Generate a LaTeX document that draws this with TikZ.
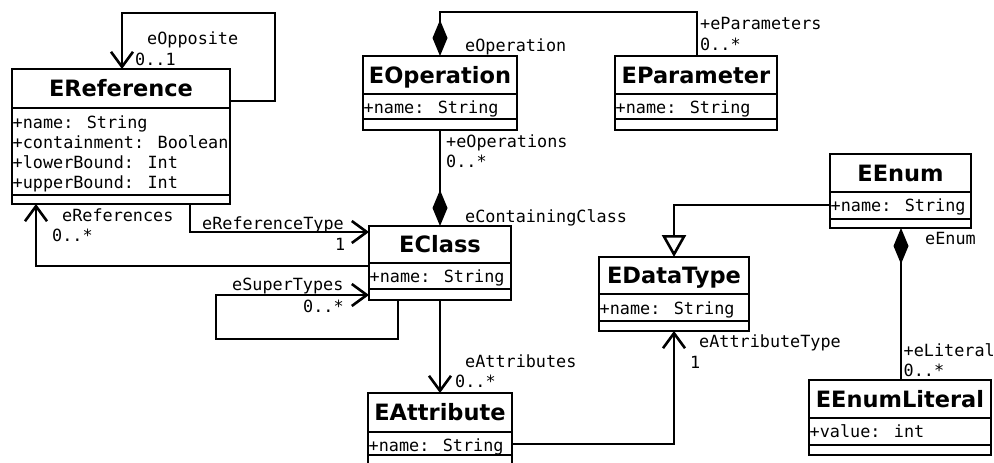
\documentclass[tikz,border=0pt]{standalone}
\usepackage{fontspec}
\usetikzlibrary{arrows.meta,calc}
\newfontfamily\umlmono{DejaVu Sans Mono}
\newfontfamily\umlsans{DejaVu Sans}

\tikzset{
  ubox/.style={draw, line width=2.6pt, fill=white, inner sep=0pt, outer sep=0pt},
  conn/.style={line width=2.6pt},
  nav/.style={conn, -{Straight Barb[length=15pt,width=22pt]}},
  comp/.style={conn, {Diamond[length=36pt,width=15pt]}-},
  gen/.style={conn, -{Triangle[open,length=22pt,width=24pt,fill=white]}},
  lbl/.style={font=\umlmono\fontsize{16.8}{20}\selectfont, anchor=base west, inner sep=0pt},
  ttl/.style={font=\umlsans\bfseries\fontsize{22.5}{26}\selectfont, anchor=base, inner sep=0pt},
}

% class box: name, x, y, width, height, title strip, attribute strip, title
\newcommand{\umlclass}[8]{%
  \node[ubox, minimum width=#4pt, minimum height=#5pt, anchor=north west] (#1) at (#2,#3) {};
  \draw[conn] ($(#1.north west)+(0,#6)$) -- ($(#1.north east)+(0,#6)$);
  \draw[conn] ($(#1.north west)+(0,#6+#7)$) -- ($(#1.north east)+(0,#6+#7)$);
  \node[ttl] (#1-title) at ($(#1.north)+(0,#6/2+8)$) {#8};
}

\begin{document}
\begin{tikzpicture}[x=1pt, y=-1pt]
\useasboundingbox (0,0) rectangle (994,463);
\clip (0,0) rectangle (994,463);
\fill[white] (0,0) rectangle (994,463);

% classes
\umlclass{eref}{12}{69}{218}{135}{39}{87}{EReference}
\umlclass{eop}{363}{56}{154}{74}{38}{25}{EOperation}
\umlclass{epar}{615}{56}{162}{74}{38}{25}{EParameter}
\umlclass{ecls}{369}{226}{142}{74}{37}{26}{EClass}
\umlclass{eenum}{830}{154}{141}{74}{38}{27}{EEnum}
\umlclass{edt}{599}{257}{150}{74}{37}{27}{EDataType}
\umlclass{eattr}{368}{393}{144}{80}{39}{23}{EAttribute}
\umlclass{elit}{809}{380}{182}{75}{38}{27}{EEnumLiteral}

% attributes
\node[lbl] (eref-a1) at (12.5,128) {+name: String};
\node[lbl] (eref-a2) at (12.5,148) {+containment: Boolean};
\node[lbl] (eref-a3) at (12.5,168) {+lowerBound: Int};
\node[lbl] (eref-a4) at (12.5,188) {+upperBound: Int};
\node[lbl] (eop-a1) at (363.5,113.5) {+name: String};
\node[lbl] (epar-a1) at (615.5,113.5) {+name: String};
\node[lbl] (ecls-a1) at (369.5,282) {+name: String};
\node[lbl] (eenum-a1) at (830.5,211.5) {+name: String};
\node[lbl] (edt-a1) at (599.5,314) {+name: String};
\node[lbl] (eattr-a1) at (368.5,451.5) {+name: String};
\node[lbl] (elit-a1) at (809.5,437.5) {+value: int};

% associations
\draw[nav] (eref.east |- 0,101) -- (275,101) -- (275,13) -- (122,13) -- (eref.north -| 122,0);
\draw[nav] (ecls.west |- 0,266) -- (36,266) -- (eref.south -| 36,0);
\draw[nav] (eref.south -| 190,0) -- (190,232) -- (ecls.west |- 0,232);
\draw[nav] (ecls.south -| 398,0) -- (398,339) -- (216,339) -- (216,295) -- (ecls.west |- 0,295);
\draw[nav] (ecls.south -| 440,0) -- (eattr.north -| 440,0);
\draw[nav] (eattr.east |- 0,444) -- (674,444) -- (edt.south -| 674,0);
\draw[gen] (eenum.west |- 0,205) -- (674,205) -- (edt.north -| 674,0);
\draw[comp] (eenum.south -| 901,0) -- (elit.north -| 901,0);
\draw[comp] (eop.north -| 440,0) -- (440,12) -- (697,12) -- (epar.north -| 697,0);
\draw[comp] (ecls.north -| 440,0) -- (eop.south -| 440,0);

% role names and multiplicities
\node[lbl] (l-opp) at (147,45) {eOpposite};
\node[lbl] (m-opp) at (135,65) {0..1};
\node[lbl] (l-refs) at (62,221) {eReferences};
\node[lbl] (m-refs) at (52,241) {0..*};
\node[lbl] (l-rtype) at (202,229) {eReferenceType};
\node[lbl] (m-rtype) at (335,250) {1};
\node[lbl] (l-super) at (232,290) {eSuperTypes};
\node[lbl] (m-super) at (303,312) {0..*};
\node[lbl] (l-attrs) at (465,367) {eAttributes};
\node[lbl] (m-attrs) at (455,387) {0..*};
\node[lbl] (l-atype) at (699,347) {eAttributeType};
\node[lbl] (m-atype) at (690,368) {1};
\node[lbl] (l-enum) at (925,244) {eEnum};
\node[lbl] (l-lit) at (903.5,356) {+eLiteral};
\node[lbl] (m-lit) at (903.5,376) {0..*};
\node[lbl] (l-op) at (465,51) {eOperation};
\node[lbl] (l-par) at (700,29) {+eParameters};
\node[lbl] (m-par) at (700,50) {0..*};
\node[lbl] (l-ops) at (446,147) {+eOperations};
\node[lbl] (m-ops) at (446,167) {0..*};
\node[lbl] (l-cont) at (465,222) {eContainingClass};
\end{tikzpicture}
\end{document}
